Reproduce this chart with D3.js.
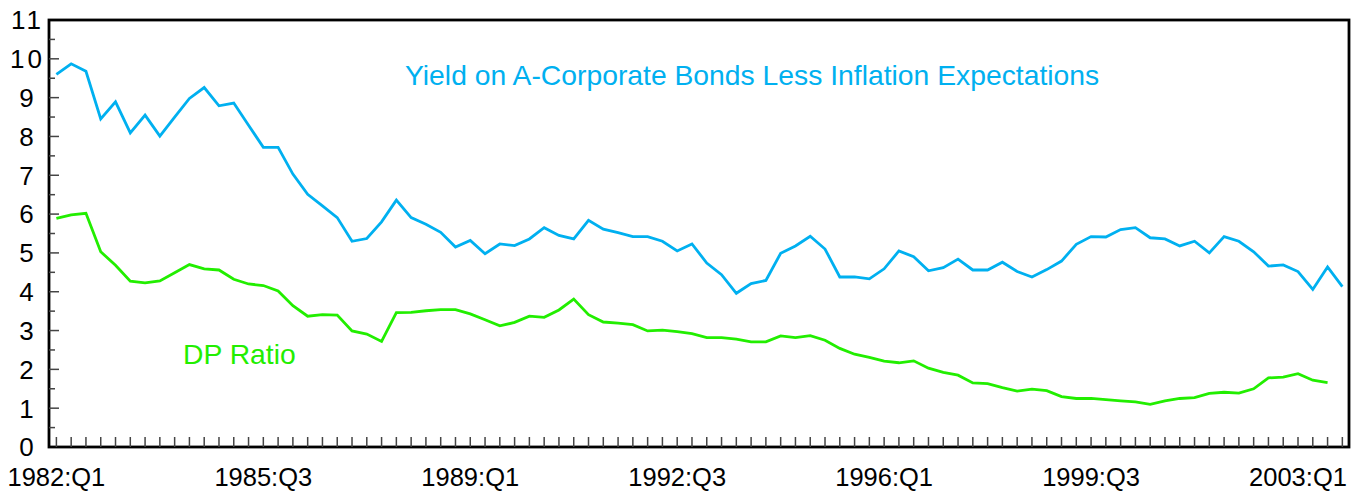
<!DOCTYPE html>
<html>
<head>
<meta charset="utf-8">
<script src="https://cdn.jsdelivr.net/npm/d3@7"></script>
<style>
  html, body { margin: 0; padding: 0; background: #fff; }
  svg { display: block; font-family: "Liberation Sans", Arial, sans-serif; }
</style>
</head>
<body>
<div class="chart"></div>
<script>
// quarterly, 1982:Q1 .. 2003:Q4
const quarters = d3.range(88).map(i => `${1982 + Math.floor(i / 4)}:Q${i % 4 + 1}`);
const xTickLabels = ["1982:Q1", "1985:Q3", "1989:Q1", "1992:Q3", "1996:Q1", "1999:Q3", "2003:Q1"];
const yTickLabels = [0, 1, 2, 3, 4, 5, 6, 7, 8, 9, 10, 11];

// real yield on A corporate bonds (1982:Q1 - 2003:Q4)
const yieldVals = [
  9.60, 9.87, 9.68, 8.45, 8.89, 8.09, 8.55, 8.01, 8.50, 8.98,
  9.26, 8.79, 8.86, 8.29, 7.72, 7.72, 7.03, 6.51, 6.21, 5.91,
  5.30, 5.37, 5.80, 6.36, 5.91, 5.74, 5.53, 5.15, 5.32, 4.98,
  5.23, 5.19, 5.36, 5.65, 5.45, 5.36, 5.84, 5.61, 5.52, 5.42,
  5.42, 5.30, 5.05, 5.23, 4.74, 4.44, 3.96, 4.21, 4.29, 4.99,
  5.18, 5.43, 5.10, 4.38, 4.38, 4.33, 4.59, 5.05, 4.90, 4.54,
  4.62, 4.84, 4.56, 4.56, 4.76, 4.52, 4.38, 4.57, 4.79, 5.22,
  5.42, 5.41, 5.60, 5.65, 5.39, 5.36, 5.18, 5.30, 5.00, 5.42,
  5.30, 5.03, 4.66, 4.69, 4.52, 4.06, 4.64, 4.13
];

// dividend-price ratio (1982:Q1 - 2003:Q3)
const dpVals = [
  5.89, 5.98, 6.02, 5.03, 4.68, 4.27, 4.23, 4.28, 4.49, 4.70,
  4.59, 4.56, 4.32, 4.20, 4.16, 4.02, 3.64, 3.37, 3.41, 3.40,
  2.99, 2.91, 2.72, 3.46, 3.47, 3.51, 3.54, 3.54, 3.43, 3.28,
  3.12, 3.21, 3.37, 3.34, 3.53, 3.81, 3.41, 3.22, 3.19, 3.15,
  2.99, 3.01, 2.97, 2.92, 2.82, 2.82, 2.78, 2.71, 2.71, 2.86,
  2.82, 2.87, 2.75, 2.54, 2.39, 2.31, 2.21, 2.17, 2.22, 2.03,
  1.92, 1.85, 1.65, 1.63, 1.53, 1.44, 1.49, 1.45, 1.30, 1.25,
  1.25, 1.22, 1.19, 1.16, 1.10, 1.19, 1.25, 1.27, 1.38, 1.41,
  1.39, 1.50, 1.78, 1.80, 1.89, 1.72, 1.66
];

const width = 1366, height = 493;
const plotLeft = 49, plotRight = 1349, plotTop = 20, plotBottom = 447;

const svg = d3.select(".chart").append("svg")
  .attr("width", width)
  .attr("height", height)
  .attr("viewBox", [0, 0, width, height]);

const x = d3.scaleLinear().domain([-0.5, 87.45]).range([plotLeft, plotRight]);
const y = d3.scaleLinear().domain([0, 11]).range([plotBottom, plotTop]);

// frame
svg.append("rect")
  .attr("x", plotLeft).attr("y", plotTop)
  .attr("width", plotRight - plotLeft).attr("height", plotBottom - plotTop)
  .attr("fill", "none")
  .attr("stroke", "#000")
  .attr("stroke-width", 2.8);

// y ticks (whole + half) drawn inward
svg.selectAll(".ytick")
  .data(d3.range(0.5, 11, 0.5))
  .join("line")
  .attr("class", "ytick")
  .attr("x1", plotLeft)
  .attr("x2", d => plotLeft + (Number.isInteger(d) ? 10 : 6))
  .attr("y1", d => y(d)).attr("y2", d => y(d))
  .attr("stroke", "#444")
  .attr("stroke-width", 1.5);

svg.selectAll(".ylabel")
  .data(yTickLabels)
  .join("text")
  .attr("class", "ylabel")
  .attr("x", d => d >= 10 ? 27.5 : 26.5)
  .attr("y", d => y(d))
  .attr("dy", "0.36em")
  .attr("text-anchor", "middle")
  .attr("letter-spacing", d => d >= 10 ? 3 : 0)
  .attr("font-size", 26)
  .attr("fill", "#000")
  .text(d => d);

// x ticks, one per quarter, pointing up
svg.selectAll(".xtick")
  .data(quarters.map((q, i) => i))
  .join("line")
  .attr("class", "xtick")
  .attr("x1", i => x(i)).attr("x2", i => x(i))
  .attr("y1", plotBottom).attr("y2", plotBottom - 10)
  .attr("stroke", "#444")
  .attr("stroke-width", 1.5);

svg.selectAll(".xlabel")
  .data(xTickLabels)
  .join("text")
  .attr("class", "xlabel")
  .attr("x", d => x(quarters.indexOf(d)))
  .attr("y", 486)
  .attr("text-anchor", "middle")
  .attr("font-size", 25.5)
  .attr("fill", "#000")
  .text(d => d);

const line = d3.line()
  .x((d, i) => x(i))
  .y(d => y(d));

svg.append("path")
  .datum(yieldVals)
  .attr("d", line)
  .attr("fill", "none")
  .attr("stroke", "#00b0f0")
  .attr("stroke-width", 2.8);

svg.append("path")
  .datum(dpVals)
  .attr("d", line)
  .attr("fill", "none")
  .attr("stroke", "#22ee00")
  .attr("stroke-width", 2.8);

svg.append("text")
  .attr("x", 405).attr("y", 85)
  .attr("font-size", 28.3)
  .attr("fill", "#00b0f0")
  .text("Yield on A-Corporate Bonds Less Inflation Expectations");

svg.append("text")
  .attr("x", 183).attr("y", 364)
  .attr("font-size", 28.3)
  .attr("fill", "#22ee00")
  .text("DP Ratio");
</script>
</body>
</html>
